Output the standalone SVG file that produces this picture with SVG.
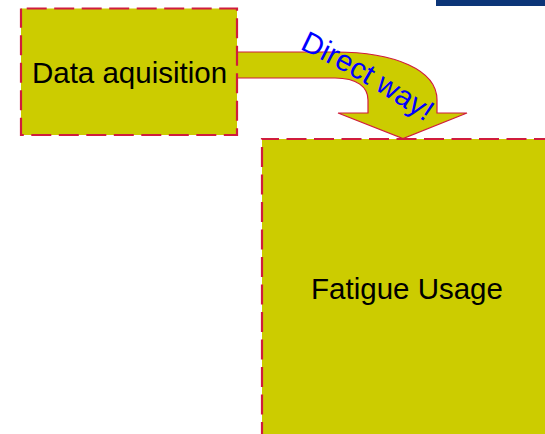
<svg xmlns="http://www.w3.org/2000/svg" width="545" height="434" viewBox="0 0 545 434">
<style>
.node{fill:#cccc00;stroke:#d01c3c;stroke-width:2.2;stroke-dasharray:20 7.5;}
.label{font-family:"Liberation Sans",Arial,sans-serif;font-size:29.5px;fill:#000;text-anchor:middle;}
.arrow{fill:#cccc00;stroke:#d01c3c;stroke-width:1.2;}
.alabel{font-family:"Liberation Sans",Arial,sans-serif;font-size:29.5px;fill:#0000ff;}
</style>
<defs>
<path id="tp" d="M299.5,49 Q358,76 428,124"/>
</defs>
<rect x="436" y="0" width="109" height="6" fill="#0c3578"/>
<g id="connectors">
<path class="arrow" d="M237,52 L335,52 C395,52 437,70 437,100 L437,113 L467,113 L403,138.5 L338,113 L368,113 L368,100 C368,87 357,78 335,78 L237,78"/>
<text class="alabel"><textPath href="#tp">Direct way!</textPath></text>
</g>
<g id="data-aquisition">
<rect class="node" x="21" y="8.5" width="216" height="126.5" stroke-dashoffset="21.8"/>
<text class="label" x="129.5" y="83.3">Data aquisition</text>
</g>
<g id="fatigue-usage">
<rect class="node" x="262" y="139" width="290" height="300" stroke-dashoffset="3"/>
<text class="label" x="407" y="299">Fatigue Usage</text>
</g>
</svg>
